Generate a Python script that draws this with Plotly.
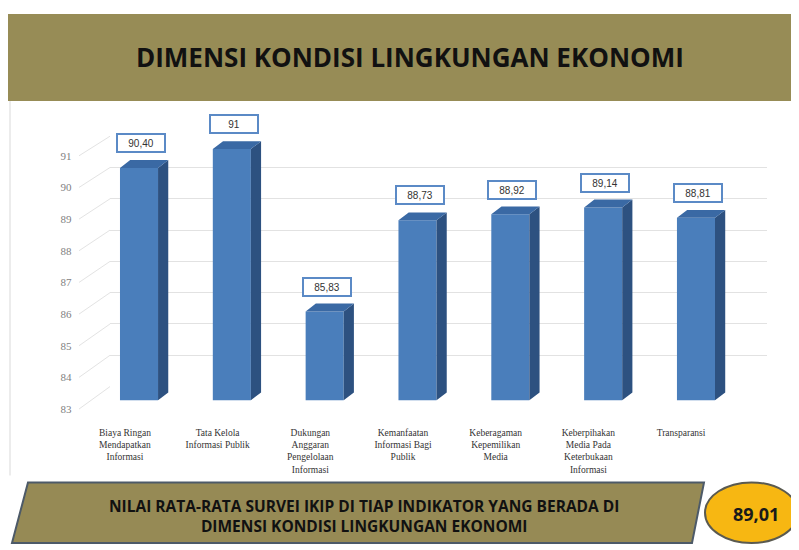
import plotly.graph_objects as go

# data
kategori = ["Biaya Ringan<br>Mendapatkan<br>Informasi",
            "Tata Kelola<br>Informasi Publik",
            "Dukungan<br>Anggaran<br>Pengelolaan<br>Informasi",
            "Kemanfaatan<br>Informasi Bagi<br>Publik",
            "Keberagaman<br>Kepemilikan<br>Media",
            "Keberpihakan<br>Media Pada<br>Keterbukaan<br>Informasi",
            "Transparansi"]
nilai = [90.40, 91, 85.83, 88.73, 88.92, 89.14, 88.81]
y_ticks = [83, 84, 85, 86, 87, 88, 89, 90, 91]
judul = "DIMENSI KONDISI LINGKUNGAN EKONOMI"
teks_bawah = "NILAI RATA-RATA SURVEI IKIP DI TIAP INDIKATOR YANG BERADA DI<br>DIMENSI KONDISI LINGKUNGAN EKONOMI"
rata_rata = "89,01"

# halaman punya margin body 8px, jadi figur digeser
OFF = 8
W, H = 799 - OFF, 550 - OFF
def px(x): return (x - OFF) / W
def py(y): return 1 - (y - OFF) / H

# domains (front plane for bars, back wall for grid, labels plane)
dom_grid_x = [px(110), px(767)]
dom_grid_y = [py(389), py(133)]
dom_bar_x = [px(92.6), px(742.4)]
dom_bar_y = [py(403), py(114)]
dom_lbl_x = [px(92.6 - 14), px(742.4 - 15)]
dom_lbl_y = [py(412), py(153)]

BASE = 83
w = 0.41      # bar width (category units)
dx = 0.11     # depth in x
dy = 0.25     # depth in y

def fmt(v):
    s = f"{v:.2f}".replace(".", ",")
    return s[:-3] if s.endswith(",00") else s

fig = go.Figure()

# dummy trace so grid axis is drawn
fig.add_trace(go.Scatter(x=[None], y=[None], xaxis="x", yaxis="y", hoverinfo="skip", showlegend=False))

# sisi samping dan atas (efek 3D)
sx, sy, tx, ty = [], [], [], []
for i, v in enumerate(nilai):
    r = i + w / 2
    l = i - w / 2
    sx += [r, r + dx, r + dx, r, r, None]
    sy += [BASE, BASE + dy, v + dy, v, BASE, None]
    tx += [l, l + dx, r + dx, r, l, None]
    ty += [v, v + dy, v + dy, v, v, None]
fig.add_trace(go.Scatter(x=sx, y=sy, xaxis="x2", yaxis="y2", fill="toself", fillcolor="#2d5180",
                         mode="lines", line=dict(width=0, color="#2d5180"), hoverinfo="skip", cliponaxis=False))
fig.add_trace(go.Scatter(x=tx, y=ty, xaxis="x2", yaxis="y2", fill="toself", fillcolor="#3a69a4",
                         mode="lines", line=dict(width=0, color="#3a69a4"), hoverinfo="skip", cliponaxis=False))
fig.add_trace(go.Bar(x=list(range(len(nilai))), y=nilai, width=w, xaxis="x2", yaxis="y2",
                     marker=dict(color="#4a7ebb", line=dict(width=0)), hoverinfo="skip"))

fig.add_trace(go.Scatter(x=[None], y=[None], xaxis="x3", yaxis="y3", hoverinfo="skip", showlegend=False))

# label nilai dalam kotak
for i, v in enumerate(nilai):
    fig.add_annotation(x=i, y=v + dy, xref="x2", yref="y2", text=fmt(v), showarrow=False,
                       yshift=17, xshift=2, width=44, height=14,
                       font=dict(family="Liberation Sans", size=10, color="#333333"),
                       bgcolor="white", bordercolor="#5b8ac6", borderwidth=2, borderpad=1)

shapes = []
# garis diagonal dari label sumbu ke dinding belakang
for t in y_ticks:
    y0 = dom_lbl_y[0] + (t - 83) / 8 * (dom_lbl_y[1] - dom_lbl_y[0])
    y1 = dom_grid_y[0] + (t - 83) / 8 * (dom_grid_y[1] - dom_grid_y[0])
    shapes.append(dict(type="line", xref="paper", yref="paper", x0=px(79), x1=px(110), y0=y0, y1=y1,
                       line=dict(color="#e3e3e3", width=1)))

# header
shapes.append(dict(type="rect", xref="paper", yref="paper", x0=px(8), x1=1, y0=py(97), y1=py(8),
                   fillcolor="#978c56", line=dict(width=0), layer="below"))
# garis tepi kiri area grafik
shapes.append(dict(type="line", xref="paper", yref="paper", x0=px(10), x1=px(10), y0=py(480), y1=py(97),
                   line=dict(color="#e6e6e6", width=1.5), layer="below"))
# banner bawah (jajaran genjang)
shapes.append(dict(type="path", xref="paper", yref="paper",
                   path=f"M {px(28)},{py(487)} L {px(704)},{py(487)} L {px(692)},{py(549)} L {px(12)},{py(549)} Z",
                   fillcolor="#968a55", line=dict(color="#4d5a68", width=2)))
# lingkaran nilai rata-rata
shapes.append(dict(type="circle", xref="paper", yref="paper", x0=px(705), x1=px(798), y0=py(549), y1=py(487),
                   fillcolor="#f7b712", line=dict(color="#5a5a50", width=2)))

fig.add_annotation(x=px(410), y=py(52), xref="paper", yref="paper", text="<b>" + judul + "</b>",
                   xanchor="center", yanchor="middle", showarrow=False,
                   font=dict(family="Open Sans", size=26, color="#111111"))
fig.add_annotation(x=px(364), y=py(521), xref="paper", yref="paper", text="<b>" + teks_bawah + "</b>",
                   xanchor="center", yanchor="middle", showarrow=False,
                   font=dict(family="Open Sans", size=15.5, color="#111111"))
fig.add_annotation(x=px(756), y=py(519), xref="paper", yref="paper", text="<b>" + rata_rata + "</b>",
                   xanchor="center", yanchor="middle", showarrow=False,
                   font=dict(family="Open Sans", size=18, color="#1a1a1a"))

fig.update_layout(
    width=W, height=H, margin=dict(l=0, r=0, t=0, b=0),
    paper_bgcolor="white", plot_bgcolor="rgba(0,0,0,0)", showlegend=False,
    shapes=shapes,
    xaxis=dict(domain=dom_grid_x, range=[0, 1], visible=False, anchor="y"),
    yaxis=dict(domain=dom_grid_y, range=[83, 91], dtick=1, showgrid=True, gridcolor="#e2e2e2", gridwidth=1,
               showticklabels=False, ticks="", zeroline=False, showline=False, anchor="x"),
    xaxis2=dict(domain=dom_bar_x, range=[-0.5, 6.5], visible=False, anchor="y2"),
    yaxis2=dict(domain=dom_bar_y, range=[83, 92], visible=False, anchor="x2"),
    xaxis3=dict(domain=dom_lbl_x, range=[-0.5, 6.5], tickvals=list(range(len(kategori))), ticktext=kategori,
                showgrid=False, zeroline=False, showline=False, ticks="", ticklabelstandoff=16,
                tickfont=dict(family="Liberation Serif", size=9.5, color="#333333"), anchor="y3"),
    yaxis3=dict(domain=dom_lbl_y, range=[83, 91], tickvals=y_ticks, showgrid=False, zeroline=False,
                showline=False, ticks="", ticklabelstandoff=6,
                tickfont=dict(family="Liberation Serif", size=11, color="#7f7f7f"), anchor="x3"),
)

fig.write_html("out.html")
